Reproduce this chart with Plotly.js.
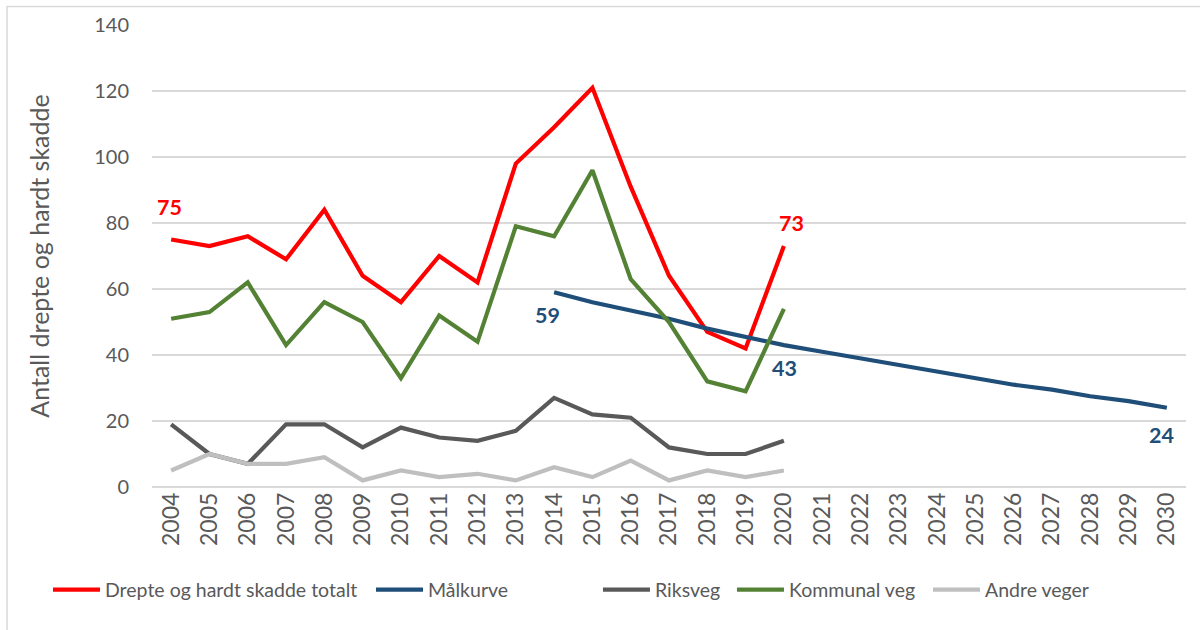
<!DOCTYPE html>
<html>
<head>
<meta charset="utf-8">
<script src="https://cdn.plot.ly/plotly-3.0.1.min.js"></script>
<style>
  html, body { margin: 0; padding: 0; background: #ffffff; }
  #chart { width: 1200px; height: 630px; }
</style>
</head>
<body>
<div id="chart"></div>
<script>
// ---- Data ----
var years = ["2004","2005","2006","2007","2008","2009","2010","2011","2012","2013","2014","2015","2016","2017","2018","2019","2020","2021","2022","2023","2024","2025","2026","2027","2028","2029","2030"];
var obsYears = years.slice(0, 17); // 2004-2020
var targetYears = years.slice(10); // 2014-2030

var total    = [75, 73, 76, 69, 84, 64, 56, 70, 62, 98, 109, 121, 91, 64, 47, 42, 73];
var riksveg  = [19, 10, 7, 19, 19, 12, 18, 15, 14, 17, 27, 22, 21, 12, 10, 10, 14];
var kommunal = [51, 53, 62, 43, 56, 50, 33, 52, 44, 79, 76, 96, 63, 50, 32, 29, 54];
var andre    = [5, 10, 7, 7, 9, 2, 5, 3, 4, 2, 6, 3, 8, 2, 5, 3, 5];
var maalkurve = [59, 56, 53.5, 51, 48, 45.5, 43, 41, 39, 37, 35, 33, 31, 29.5, 27.5, 26, 24];

var seriesNames = ["Drepte og hardt skadde totalt", "Målkurve", "Riksveg", "Kommunal veg", "Andre veger"];
var yTitle = "Antall drepte og hardt skadde";

// ---- Styles ----
var cRed = "#FF0000", cBlue = "#1F4E79", cDark = "#595959", cGreen = "#548235", cLight = "#BFBFBF";
var font = "Lato, 'Open Sans', sans-serif";
var lw = 4.2;
var legendKeys = ["legend", "legend2", "legend3", "legend4", "legend5"];
var legendX = [-0.1006, 0.2118, 0.4313, 0.5609, 0.7505]; // paper x of each legend entry

function tr(x, y, i, color) {
  return { type: "scatter", mode: "lines", x: x, y: y, name: seriesNames[i], legend: legendKeys[i],
           line: { color: color, width: lw, shape: "linear" }, hoverinfo: "skip" };
}

var data = [
  tr(obsYears, total, 0, cRed),
  tr(targetYears, maalkurve, 1, cBlue),
  tr(obsYears, riksveg, 2, cDark),
  tr(obsYears, kommunal, 3, cGreen),
  tr(obsYears, andre, 4, cLight)
];

function lbl(cat, y, color, xs, ys) {
  return { x: years.indexOf(cat), y: y, xref: "x", yref: "y", text: "<b>" + y + "</b>", showarrow: false,
           font: { family: font, size: 21.5, color: color }, xshift: xs, yshift: ys };
}

var lastObs = obsYears.length - 1;
var lastT = targetYears.length - 1;
var annotations = [
  lbl(obsYears[0], total[0], cRed, -2, 33),
  lbl(obsYears[lastObs], total[lastObs], cRed, 8, 23),
  lbl(targetYears[0], maalkurve[0], cBlue, -7, -23),
  lbl(targetYears[6], maalkurve[6], cBlue, 1, -23),
  lbl(targetYears[lastT], maalkurve[lastT], cBlue, -5, -27)
];

var legFont = { family: font, size: 19.5, color: "#595959" };

var layout = {
  width: 1200, height: 630,
  paper_bgcolor: "#ffffff", plot_bgcolor: "#ffffff",
  margin: { l: 152, r: 14, t: 25, b: 143 },
  font: { family: font, color: "#595959", size: 18 },
  showlegend: true,
  xaxis: {
    type: "category", categoryorder: "array", categoryarray: years,
    range: [-0.5, years.length - 0.5],
    tickangle: -90, tickfont: { family: font, size: 23, color: "#595959" },
    showgrid: false, zeroline: false, showline: false, ticks: "", fixedrange: true
  },
  yaxis: {
    range: [0, 140], dtick: 20, tick0: 0,
    showgrid: true, gridcolor: "#D9D9D9", gridwidth: 1.5,
    zeroline: true, zerolinecolor: "#D9D9D9", zerolinewidth: 1.5,
    showline: false, ticks: "", ticklen: 0, ticklabelstandoff: 22,
    tickfont: { family: font, size: 20, color: "#595959" },
    title: { text: yTitle, font: { family: font, size: 25, color: "#595959" }, standoff: 37 },
    fixedrange: true
  },
  annotations: annotations,
  shapes: [
    { type: "rect", xref: "paper", yref: "paper",
      x0: -0.1402, x1: 1.03, y0: -0.35, y1: 1.040,
      line: { color: "#D9D9D9", width: 1.5 }, fillcolor: "rgba(0,0,0,0)", layer: "below" }
  ]
};

legendKeys.forEach(function (k, i) {
  layout[k] = { orientation: "h", x: legendX[i], xanchor: "left", y: -0.223, yanchor: "middle",
                font: legFont, itemwidth: 47, tracegroupgap: 0, bgcolor: "rgba(0,0,0,0)" };
});

Plotly.newPlot("chart", data, layout, { displayModeBar: false, staticPlot: true });
</script>
</body>
</html>
